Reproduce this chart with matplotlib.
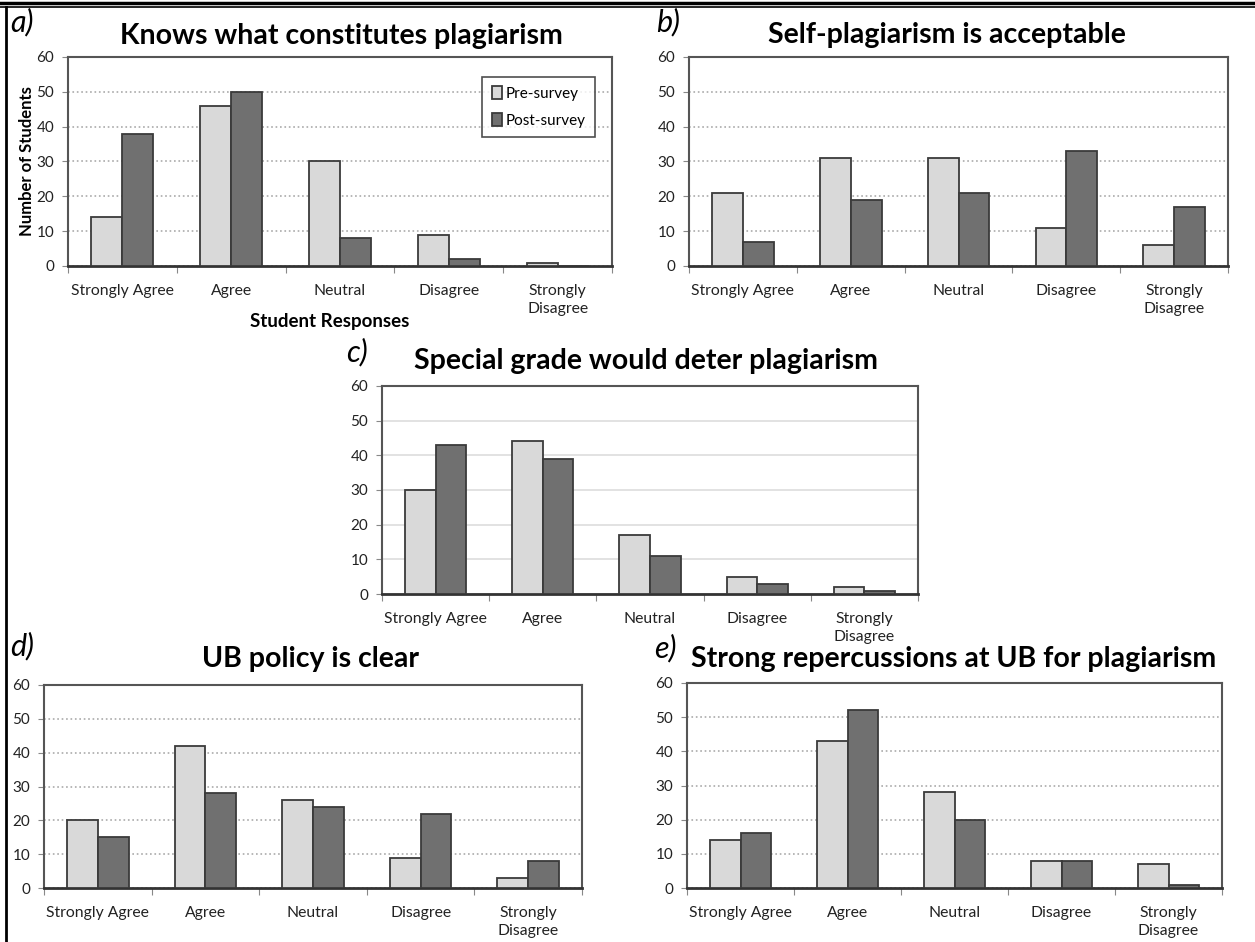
import numpy as np
import matplotlib.pyplot as plt
from matplotlib.lines import Line2D

plt.rcParams['font.family'] = ['Lato', 'DejaVu Sans']

categories = ["Strongly Agree", "Agree", "Neutral", "Disagree", "Strongly\nDisagree"]
series_names = ["Pre-survey", "Post-survey"]

titles = ["Knows what constitutes plagiarism",
          "Self-plagiarism is acceptable",
          "Special grade would deter plagiarism",
          "UB policy is clear",
          "Strong repercussions at UB for plagiarism"]
letters = ["a)", "b)", "c)", "d)", "e)"]

pre_a = [14, 46, 30, 9, 1]
post_a = [38, 50, 8, 2, 0]
pre_b = [21, 31, 31, 11, 6]
post_b = [7, 19, 21, 33, 17]
pre_c = [30, 44, 17, 5, 2]
post_c = [43, 39, 11, 3, 1]
pre_d = [20, 42, 26, 9, 3]
post_d = [15, 28, 24, 22, 8]
pre_e = [14, 43, 28, 8, 7]
post_e = [16, 52, 20, 8, 1]

W, H = 1255, 942
fig = plt.figure(figsize=(W / 100, H / 100), dpi=100)

# pixel boxes: left, right, top, bottom
boxes = [(68, 612, 57, 266), (689, 1228, 57, 266), (382, 918, 386, 594),
         (44, 582, 685, 888), (687, 1222, 683, 888)]
title_pos = [(341, 36), (947, 35), (646, 361), (311, 659), (954, 659)]
letter_pos = [(10, 22), (656, 22), (346, 352), (10, 646), (654, 648)]
data = [(pre_a, post_a), (pre_b, post_b), (pre_c, post_c), (pre_d, post_d), (pre_e, post_e)]

pre_col = '#d9d9d9'
post_col = '#707070'
bw = 1 / 3.5
x = np.arange(len(categories))

for i, (pre, post) in enumerate(data):
    l, r, t, b = boxes[i]
    ax = fig.add_axes([l / W, 1 - b / H, (r - l) / W, (b - t) / H])
    ax.bar(x - bw / 2, pre, bw, color=pre_col, edgecolor='#3a3a3a', linewidth=1.3,
           label=series_names[0], zorder=3)
    ax.bar(x + bw / 2, post, bw, color=post_col, edgecolor='#3a3a3a', linewidth=1.3,
           label=series_names[1], zorder=3)
    ax.set_xlim(-0.5, 4.5)
    ax.set_ylim(0, 60)
    ax.set_yticks(range(0, 61, 10))
    ax.set_xticks(np.arange(-0.5, 5, 1))
    ax.set_xticklabels([])
    ax.set_xticks(x, minor=True)
    ax.set_xticklabels(categories, minor=True, fontsize=11.3, color='#222222',
                       linespacing=1.4, va='top')
    ax.tick_params(axis='x', which='major', direction='out', length=5, color='#888888')
    ax.tick_params(axis='x', which='minor', length=0, pad=13)
    ax.tick_params(axis='y', direction='out', length=4, color='#888888',
                   labelsize=11, labelcolor='#222222', pad=6)
    ls = '-' if i == 2 else ':'
    gc = '#dddddd' if i == 2 else '#aaaaaa'
    ax.grid(axis='y', linestyle=ls, color=gc, linewidth=1.2, zorder=0)
    for s in ax.spines.values():
        s.set_color('#555555')
        s.set_linewidth(1.5)
    ax.spines['bottom'].set_color('#333333')
    ax.spines['bottom'].set_linewidth(2)

    tx, ty = title_pos[i]
    fig.text(tx / W, 1 - ty / H, titles[i], ha='center', va='center',
             fontsize=20.5, fontweight='bold')
    lx, ly = letter_pos[i]
    fig.text(lx / W, 1 - ly / H, letters[i], ha='left', va='center',
             fontsize=22, style='italic')

    if i == 0:
        ax.set_ylabel("Number of Students", fontsize=12, fontweight='bold', labelpad=1)
        fig.text(330 / W, 1 - 322 / H, "Student Responses", ha='center', va='center',
                 fontsize=13.5, fontweight='bold')
        leg = ax.legend(loc='upper right', bbox_to_anchor=(0.982, 0.94), fontsize=11,
                        frameon=True, fancybox=False, edgecolor='#222222',
                        handlelength=0.7, handleheight=0.9, handletextpad=0.2,
                        borderpad=0.6, labelspacing=0.8)
        leg.get_frame().set_linewidth(1.2)

# outer frame of the figure
fig.add_artist(Line2D([0, 1], [1 - 3 / H, 1 - 3 / H], color='black', linewidth=2.5))
fig.add_artist(Line2D([0, 1], [1 - 6.5 / H, 1 - 6.5 / H], color='black', linewidth=1.2))
fig.add_artist(Line2D([6 / W, 6 / W], [0, 1 - 6.5 / H], color='black', linewidth=2))

fig.savefig("out.png", dpi=100)
